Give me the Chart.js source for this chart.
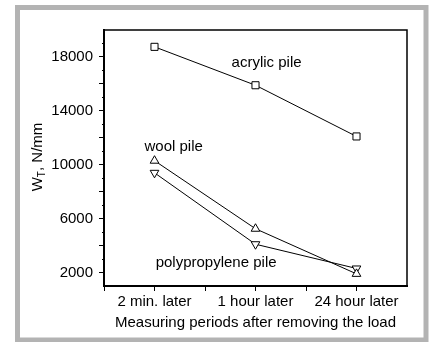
<!DOCTYPE html>
<html>
<head>
<meta charset="utf-8">
<script src="https://cdn.jsdelivr.net/npm/chart.js@4"></script>
<style>
  body { margin: 0; background: #fff; }
  canvas { display: block; }
</style>
</head>
<body>
<canvas id="chart" width="429" height="342"></canvas>
<script>
// --- datos ---
const periodos = ['2 min. later', '1 hour later', '24 hour later'];
const acrylic = [18750, 15900, 12100];
const wool = [10300, 5250, 1900];
const polypropylene = [9400, 4100, 2300];
const yLabels = [2000, 6000, 10000, 14000, 18000];
const yTicks = [2000, 4000, 6000, 8000, 10000, 12000, 14000, 16000, 18000];
const xTicks = [-0.5, 0, 0.5, 1, 1.5, 2];

// etiquetas de las series (posicion en unidades de datos)
const etiquetas = [
  { text: 'acrylic pile', x: 1.11, y: 17550 },
  { text: 'wool pile', x: 0.19, y: 11350 },
  { text: 'polypropylene pile', x: 0.61, y: 2750 }
];

const FONT = 'Arial, "Liberation Sans", sans-serif';
const toPoints = (vals) => vals.map((v, i) => ({ x: i, y: v }));

const serie = (label, vals, style, rot) => ({
  label: label,
  data: toPoints(vals),
  borderColor: '#000',
  borderWidth: 1,
  pointStyle: style,
  pointRotation: rot,
  pointRadius: 5,
  pointBackgroundColor: '#fff',
  pointBorderColor: '#000',
  pointBorderWidth: 1,
  tension: 0
});

// marco gris, borde del area, ticks menores, titulo Y y etiquetas
const decoracion = {
  id: 'decoracion',
  beforeDraw(chart) {
    const c = chart.ctx;
    c.save();
    c.fillStyle = '#fff';
    c.fillRect(0, 0, chart.width, chart.height);
    c.strokeStyle = '#b3b3b3';
    c.lineWidth = 5;
    c.strokeRect(17.5, 7.5, 408.5, 332.5);
    c.restore();
  },
  afterDraw(chart) {
    const c = chart.ctx;
    const a = chart.chartArea;
    const sx = chart.scales.x, sy = chart.scales.y;
    c.save();
    c.strokeStyle = '#000';
    c.lineWidth = 1.5;
    c.beginPath();
    c.moveTo(a.left, a.top); c.lineTo(a.right, a.top); c.lineTo(a.right, a.bottom);
    c.stroke();
    // ticks menores cada 1000
    c.lineWidth = 1;
    for (let v = 3000; v < 20000; v += 2000) {
      const py = Math.round(sy.getPixelForValue(v)) + 0.5;
      c.beginPath(); c.moveTo(a.left - 2, py); c.lineTo(a.left, py); c.stroke();
    }
    // titulo eje Y con subindice
    c.fillStyle = '#000';
    c.translate(38, 157);
    c.rotate(-Math.PI / 2);
    c.textBaseline = 'middle';
    const big = '15px ' + FONT, small = '10px ' + FONT;
    c.font = big; const wW = c.measureText('W').width;
    c.font = small; const wT = c.measureText('T').width;
    c.font = big; const wR = c.measureText(', N/mm').width;
    let x0 = -(wW + wT + wR) / 2;
    c.textAlign = 'left';
    c.fillText('W', x0, 0);
    c.font = small; c.fillText('T', x0 + wW, 4);
    c.font = big; c.fillText(', N/mm', x0 + wW + wT, 0);
    c.setTransform(1, 0, 0, 1, 0, 0);
    // etiquetas de series
    c.font = '15px ' + FONT;
    c.textAlign = 'center';
    c.textBaseline = 'middle';
    etiquetas.forEach(e => {
      c.fillText(e.text, sx.getPixelForValue(e.x), sy.getPixelForValue(e.y));
    });
    c.restore();
  }
};

new Chart(document.getElementById('chart'), {
  type: 'line',
  data: {
    datasets: [
      serie('acrylic pile', acrylic, 'rect', 0),
      serie('wool pile', wool, 'triangle', 0),
      serie('polypropylene pile', polypropylene, 'triangle', 180)
    ]
  },
  options: {
    responsive: false,
    animation: false,
    devicePixelRatio: 1,
    layout: { padding: { top: 30, right: 22, left: 0, bottom: 0 } },
    plugins: { legend: { display: false }, tooltip: { enabled: false } },
    scales: {
      x: {
        type: 'linear',
        min: -0.5,
        max: 2.5,
        afterBuildTicks: (s) => { s.ticks = xTicks.map(v => ({ value: v })); },
        afterFit: (s) => { s.height = 56; },
        border: { color: '#000', width: 2 },
        grid: { drawOnChartArea: false, tickLength: 5, tickWidth: 1, tickColor: '#000' },
        ticks: {
          autoSkip: false,
          maxRotation: 0,
          padding: 2,
          color: '#000',
          font: { family: FONT, size: 15 },
          callback: (v) => (Number.isInteger(v) ? periodos[v] : '')
        },
        title: {
          display: true,
          text: 'Measuring periods after removing the load',
          color: '#000',
          font: { family: FONT, size: 15 },
          padding: { top: 0, bottom: 10 }
        }
      },
      y: {
        min: 1000,
        max: 20000,
        afterBuildTicks: (s) => { s.ticks = yTicks.map(v => ({ value: v })); },
        afterFit: (s) => { s.width = 104; },
        border: { color: '#000', width: 2 },
        grid: { drawOnChartArea: false, tickLength: 5, tickWidth: 1, tickColor: '#000' },
        ticks: {
          autoSkip: false,
          padding: 6,
          color: '#000',
          font: { family: FONT, size: 15 },
          callback: (v) => (yLabels.includes(v) ? String(v) : '')
        }
      }
    }
  },
  plugins: [decoracion]
});
</script>
</body>
</html>
